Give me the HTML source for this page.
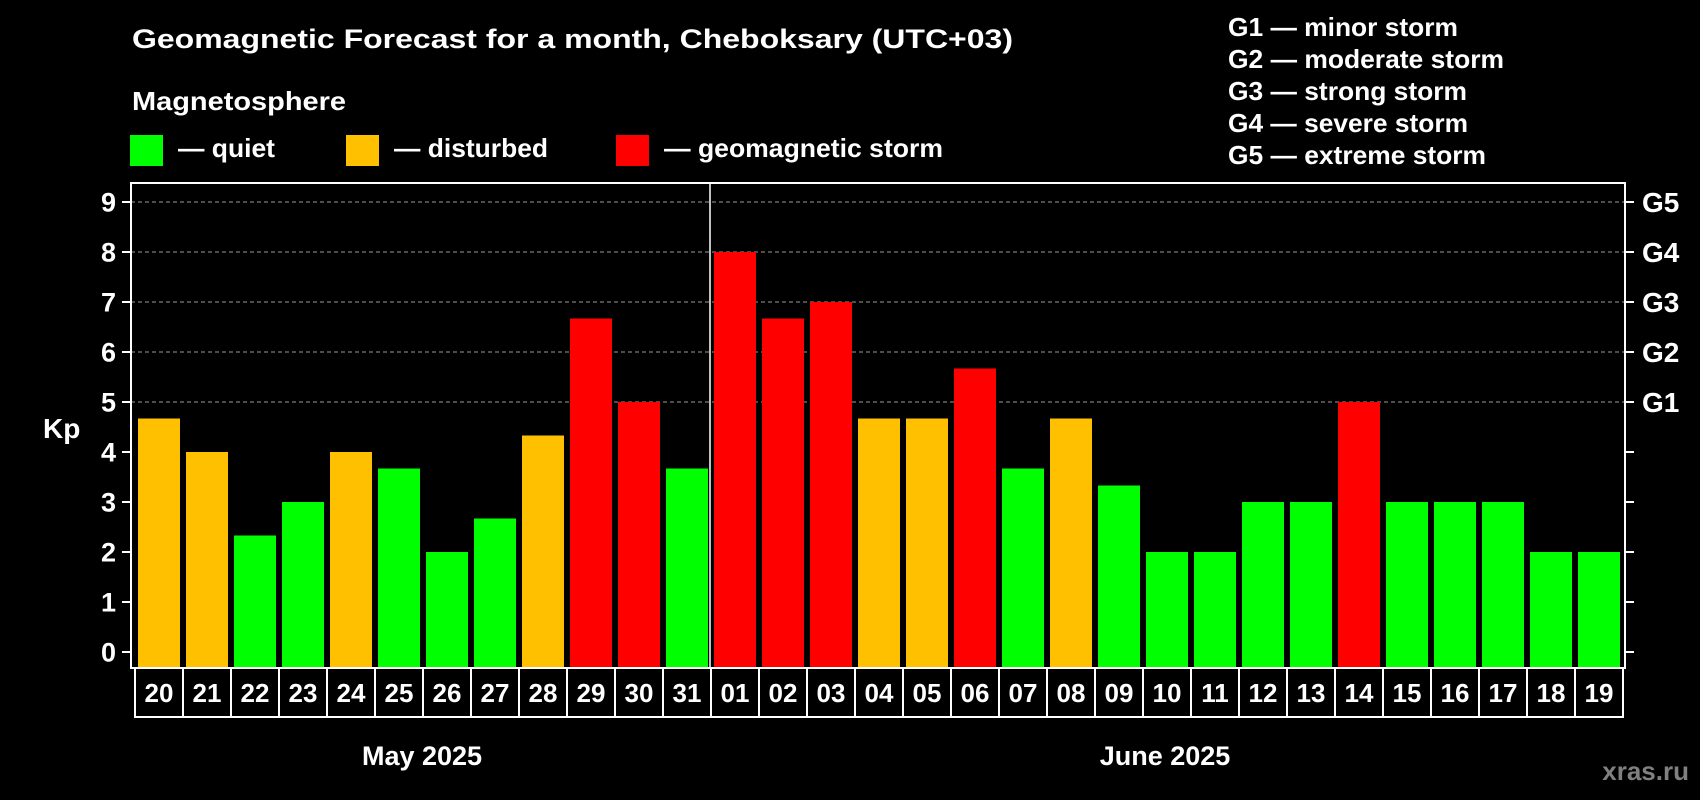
<!DOCTYPE html>
<html><head><meta charset="utf-8"><style>
html,body{margin:0;padding:0;background:#000;width:1700px;height:800px;overflow:hidden}
svg{display:block;font-family:"Liberation Sans",Arial,sans-serif;font-weight:bold}
</style></head><body>
<svg id="chart" width="1700" height="800" viewBox="0 0 1700 800">
<rect x="0" y="0" width="1700" height="800" fill="#000"/>
<text x="132" y="48" fill="#fff" font-size="27" textLength="881" lengthAdjust="spacingAndGlyphs">Geomagnetic Forecast for a month, Cheboksary (UTC+03)</text>
<text x="132" y="110" fill="#fff" font-size="26" textLength="214" lengthAdjust="spacingAndGlyphs">Magnetosphere</text>
<g><rect x="130" y="135" width="33" height="31" fill="#00ff00"/><text x="178" y="157" fill="#fff" font-size="26" textLength="97" lengthAdjust="spacingAndGlyphs">— quiet</text></g>
<g><rect x="346" y="135" width="33" height="31" fill="#ffc000"/><text x="394" y="157" fill="#fff" font-size="26" textLength="154" lengthAdjust="spacingAndGlyphs">— disturbed</text></g>
<g><rect x="616" y="135" width="33" height="31" fill="#ff0000"/><text x="664" y="157" fill="#fff" font-size="26" textLength="279" lengthAdjust="spacingAndGlyphs">— geomagnetic storm</text></g>
<g fill="#fff" font-size="26">
<text x="1228" y="36" textLength="230" lengthAdjust="spacingAndGlyphs">G1 — minor storm</text>
<text x="1228" y="68" textLength="276" lengthAdjust="spacingAndGlyphs">G2 — moderate storm</text>
<text x="1228" y="100" textLength="239" lengthAdjust="spacingAndGlyphs">G3 — strong storm</text>
<text x="1228" y="132" textLength="240" lengthAdjust="spacingAndGlyphs">G4 — severe storm</text>
<text x="1228" y="164" textLength="258" lengthAdjust="spacingAndGlyphs">G5 — extreme storm</text>
</g>
<text x="43" y="438" fill="#fff" font-size="28">Kp</text>
<g id="plot"></g>
<text x="422" y="765" fill="#fff" font-size="27" text-anchor="middle">May 2025</text>
<text x="1165" y="765" fill="#fff" font-size="27" text-anchor="middle">June 2025</text>
<text x="1689" y="780" fill="#808080" font-size="26" text-anchor="end">xras.ru</text>
</svg>
<script>
const days = ["20","21","22","23","24","25","26","27","28","29","30","31","01","02","03","04","05","06","07","08","09","10","11","12","13","14","15","16","17","18","19"];
const kpValues = [4.67,4,2.33,3,4,3.67,2,2.67,4.33,6.67,5,3.67,8,6.67,7,4.67,4.67,5.67,3.67,4.67,3.33,2,2,3,3,5,3,3,3,2,2];
const yTicks = ["0","1","2","3","4","5","6","7","8","9"];
const gLabels = ["G1","G2","G3","G4","G5"];
const gLevels = [5,6,7,8,9];
const monthBreakIndex = 12;

const NS = "http://www.w3.org/2000/svg";
const plot = document.getElementById("plot");
const L = 131, R = 1625, T = 183, B = 668;
const y = v => 652 - 50 * v;
const xCell = i => 135 + i * 48;
const xBar = i => 138 + i * 48;
function mk(tag, attrs, parent) {
  const e = document.createElementNS(NS, tag);
  for (const k in attrs) e.setAttribute(k, attrs[k]);
  (parent || plot).appendChild(e);
  return e;
}
function color(v) { return v >= 5 ? "#ff0000" : (v >= 4 ? "#ffc000" : "#00ff00"); }

// gridlines
gLevels.forEach(function (lv) {
  const g = mk("line", {x1: L, x2: R, y1: y(lv), y2: y(lv), stroke: "#9a9a9a", "stroke-width": 1, "stroke-dasharray": "4,3"});
  
  
});
// bars
kpValues.forEach(function (v, i) {
  const b = mk("rect", {x: xBar(i), y: y(v), width: 42, height: B - y(v), fill: color(v)});
  
  
});
// month separator
const sep = mk("line", {x1: xCell(monthBreakIndex) - 1, x2: xCell(monthBreakIndex) - 1, y1: T, y2: B, stroke: "#fff", "stroke-width": 1.5});


// frame
const fr = mk("rect", {x: L, y: T, width: R - L, height: B - T, fill: "none", stroke: "#fff", "stroke-width": 2});


// y ticks
yTicks.forEach(function (t, i) {
  const v = +t;
  const tl = mk("line", {x1: 122, x2: L, y1: y(v), y2: y(v), stroke: "#fff", "stroke-width": 2});
  
  
  const tr = mk("line", {x1: R, x2: 1634, y1: y(v), y2: y(v), stroke: "#fff", "stroke-width": 2});
  
  
  const lab = mk("text", {x: 116, y: y(v) + 9.5, fill: "#fff", "font-size": 27, "text-anchor": "end"});
  lab.textContent = t;
  
  
});
gLabels.forEach(function (g, i) {
  const lab = mk("text", {x: 1642, y: y(gLevels[i]) + 10, fill: "#fff", "font-size": 28});
  lab.textContent = g;
  
  
});
// x label boxes
days.forEach(function (d, i) {
  const c = mk("rect", {x: xCell(i), y: B, width: 48, height: 49, fill: "none", stroke: "#fff", "stroke-width": 2});
  
  
  const t = mk("text", {x: xCell(i) + 24, y: 702, fill: "#fff", "font-size": 26, "text-anchor": "middle"});
  t.textContent = d;
  
  
});
</script>
</body></html>
